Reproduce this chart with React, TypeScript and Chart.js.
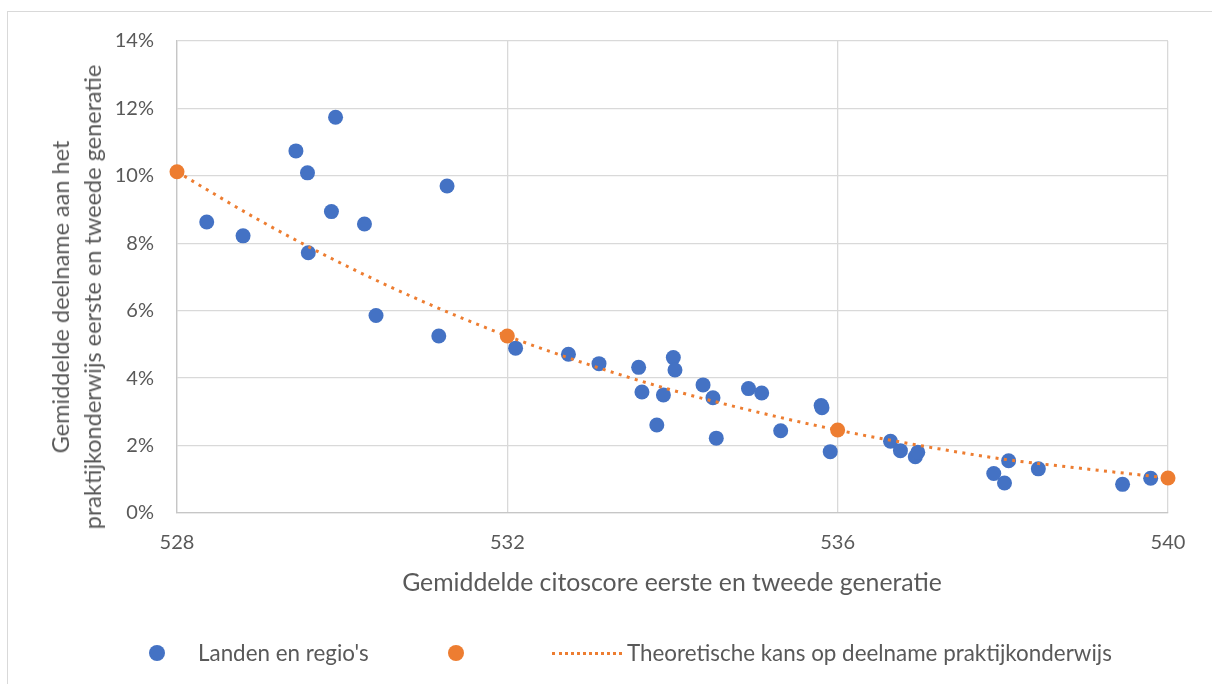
import React, { useEffect, useRef } from "react";
import { Chart, registerables } from "chart.js";

Chart.register(...registerables);

// Blue points: countries and regions (citoscore, participation %)
const landenScore = [
  529.92, 529.44, 529.58, 531.27, 528.36, 528.8, 529.87, 530.27, 529.59, 530.41,
  531.17, 532.1, 532.74, 533.11, 533.59, 533.63, 533.89, 533.81, 534.01, 534.03,
  534.37, 534.49, 534.53, 534.92, 535.08, 535.31, 535.8, 535.81, 535.91, 536.64,
  536.76, 536.94, 536.97, 537.89, 538.02, 538.07, 538.43, 539.45, 539.79,
];
const landenDeelname = [
  11.74, 10.74, 10.09, 9.7, 8.63, 8.22, 8.94, 8.57, 7.72, 5.86,
  5.25, 4.89, 4.71, 4.43, 4.32, 3.59, 3.5, 2.61, 4.61, 4.24,
  3.8, 3.42, 2.22, 3.69, 3.56, 2.44, 3.19, 3.12, 1.82, 2.13,
  1.85, 1.67, 1.8, 1.17, 0.89, 1.55, 1.31, 0.85, 1.03,
];

// Orange markers
const theorieScore = [528, 532, 536, 540];
const theorieDeelname = [10.12, 5.25, 2.46, 1.04];

// Dotted theoretical curve
const curveScore = [528, 529, 530, 531, 532, 533, 534, 535, 536, 537, 538, 539, 540];
const curveDeelname = [10.12, 8.68, 7.39, 6.25, 5.25, 4.39, 3.64, 3.01, 2.46, 2.0, 1.6, 1.31, 1.04];

const xTicks = [528, 532, 536, 540];
const yTicks = [0, 2, 4, 6, 8, 10, 12, 14];

const seriesNames = ["Landen en regio's", "", "Theoretische kans op deelname praktijkonderwijs"];
const xTitle = "Gemiddelde citoscore eerste en tweede generatie";
const yTitleLines = ["Gemiddelde deelname aan het", "praktijkonderwijs eerste en tweede generatie"];

const BLUE = "#4472C4";
const ORANGE = "#ED7D31";
const TEXT = "#595959";
const FONT = "Lato, 'Open Sans', sans-serif";

export default function App() {
  const ref = useRef<HTMLCanvasElement | null>(null);

  useEffect(() => {
    if (!ref.current) return;
    const toPts = (xs: number[], ys: number[]) => xs.map((x, i) => ({ x, y: ys[i] }));
    const chart = new Chart(ref.current, {
      type: "scatter",
      data: {
        datasets: [
          {
            label: seriesNames[0],
            data: toPts(landenScore, landenDeelname),
            backgroundColor: BLUE,
            borderColor: BLUE,
            borderWidth: 0,
            pointRadius: 7.5,
            order: 2,
            clip: false,
          },
          {
            label: seriesNames[1],
            data: toPts(theorieScore, theorieDeelname),
            backgroundColor: ORANGE,
            borderColor: ORANGE,
            borderWidth: 0,
            pointRadius: 7.5,
            order: 0,
            clip: false,
          },
          {
            label: seriesNames[2],
            data: toPts(curveScore, curveDeelname),
            showLine: true,
            borderColor: ORANGE,
            backgroundColor: ORANGE,
            borderWidth: 3,
            borderDash: [3, 5.4],
            borderCapStyle: "butt",
            pointRadius: 0,
            cubicInterpolationMode: "monotone",
            order: 1,
            clip: false,
          } as any,
        ],
      },
      options: {
        animation: false,
        responsive: false,
        maintainAspectRatio: false,
        layout: { autoPadding: false, padding: { top: 41, right: 44, left: 0, bottom: 0 } } as any,
        plugins: { legend: { display: false }, tooltip: { enabled: false } },
        scales: {
          x: {
            type: "linear",
            min: 528,
            max: 540,
            afterFit: (s: any) => {
              s.height = 171;
            },
            afterBuildTicks: (s: any) => {
              s.ticks = xTicks.map((v) => ({ value: v }));
            },
            grid: { color: "#d9d9d9", lineWidth: 1.3, drawTicks: false },
            border: { color: "#c6c6c6", width: 1.3 },
            ticks: {
              color: TEXT,
              font: { family: FONT, size: 20 },
              padding: 18,
              maxRotation: 0,
              callback: (v: any) => String(v),
            },
          },
          y: {
            type: "linear",
            min: 0,
            max: 14,
            afterFit: (s: any) => {
              s.width = 177;
            },
            afterBuildTicks: (s: any) => {
              s.ticks = yTicks.map((v) => ({ value: v }));
            },
            grid: { color: "#d9d9d9", lineWidth: 1.3, drawTicks: false },
            border: { color: "#c6c6c6", width: 1.3 },
            ticks: {
              color: TEXT,
              font: { family: FONT, size: 20 },
              padding: 23,
              callback: (v: any) => `${v}%`,
            },
          },
        },
      },
    });
    return () => chart.destroy();
  }, []);

  return (
    <div
      style={{
        position: "absolute",
        left: 0,
        top: 0,
        width: 1212,
        height: 684,
        overflow: "hidden",
        background: "#fff",
        fontFamily: FONT,
        color: TEXT,
      }}
    >
      <div
        style={{
          position: "absolute",
          left: 7,
          top: 11,
          width: 1400,
          height: 900,
          border: "1px solid #d9d9d9",
          boxSizing: "border-box",
        }}
      />
      <canvas ref={ref} width={1212} height={684} style={{ position: "absolute", left: 0, top: 0 }} />
      {/* Y axis title */}
      <div style={{ position: "absolute", left: 76, top: 297, width: 0, height: 0 }}>
        <div
          style={{
            position: "absolute",
            left: 0,
            top: 0,
            transform: "translate(-50%, -50%) rotate(-90deg)",
            whiteSpace: "nowrap",
            textAlign: "center",
            fontSize: 23.5,
            lineHeight: "32px",
          }}
        >
          {yTitleLines.map((l, i) => (
            <div key={i}>{l}</div>
          ))}
        </div>
      </div>
      {/* X axis title */}
      <div
        style={{
          position: "absolute",
          left: 672,
          top: 582,
          transform: "translate(-50%, -50%)",
          whiteSpace: "nowrap",
          fontSize: 24.8,
          lineHeight: "32px",
        }}
      >
        {xTitle}
      </div>
      {/* Legend */}
      <div style={{ position: "absolute", left: 0, top: 653, width: 1212, height: 0 }}>
        <span
          style={{
            position: "absolute",
            left: 149,
            top: -8,
            width: 16,
            height: 16,
            borderRadius: "50%",
            background: BLUE,
          }}
        />
        <span
          style={{
            position: "absolute",
            left: 198,
            top: -15,
            fontSize: 22.4,
            lineHeight: "30px",
            whiteSpace: "nowrap",
          }}
        >
          {seriesNames[0]}
        </span>
        <span
          style={{
            position: "absolute",
            left: 448,
            top: -8,
            width: 16,
            height: 16,
            borderRadius: "50%",
            background: ORANGE,
          }}
        />
        <span
          style={{
            position: "absolute",
            left: 552,
            top: -1.5,
            width: 70,
            height: 0,
            borderTop: `3px dotted ${ORANGE}`,
          }}
        />
        <span
          style={{
            position: "absolute",
            left: 627,
            top: -15,
            fontSize: 22.4,
            lineHeight: "30px",
            whiteSpace: "nowrap",
          }}
        >
          {seriesNames[2]}
        </span>
      </div>
    </div>
  );
}
